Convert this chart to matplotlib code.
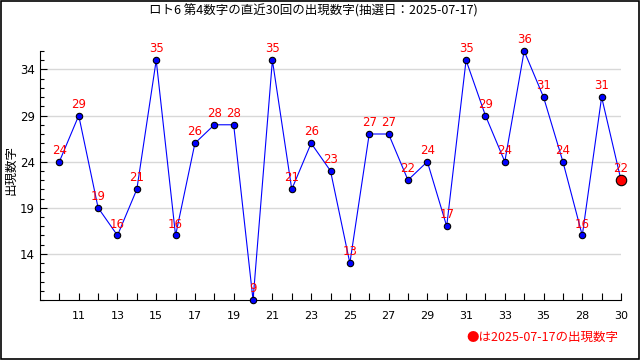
import matplotlib
matplotlib.use('Agg')
import matplotlib.pyplot as plt
from matplotlib.patches import Rectangle

plt.rcParams['font.family'] = ['Noto Sans CJK JP', 'DejaVu Sans']

# data
draws = list(range(1, 31))
numbers = [24, 29, 19, 16, 21, 35, 16, 26, 28, 28, 9, 35, 21, 26, 23,
           13, 27, 27, 22, 24, 17, 35, 29, 24, 36, 31, 24, 16, 31, 22]
tick_pos = list(range(2, 31, 2))
tick_labels = ['11', '13', '15', '17', '19', '21', '23', '25', '27', '29',
               '31', '33', '35', '28', '30']
title = 'ロト6 第4数字の直近30回の出現数字(抽選日：2025-07-17)'
note = '●は2025-07-17の出現数字'

fig = plt.figure(figsize=(6.4, 3.6), dpi=100)
ax = fig.add_axes([40 / 640, 1 - 300 / 360, 581 / 640, 249 / 360])

ax.plot(draws, numbers, color='blue', lw=0.8, zorder=3)
ax.plot(draws[:-1], numbers[:-1], 'o', ms=4.6, mfc='blue', mec='black',
        mew=0.8, zorder=4, clip_on=False)
ax.plot(draws[-1], numbers[-1], 'o', ms=7.5, mfc='red', mec='black',
        mew=0.8, zorder=5, clip_on=False)

for x, y in zip(draws, numbers):
    ax.annotate(str(y), (x, y), xytext=(0, 3.5), textcoords='offset points',
                ha='center', va='bottom', color='red', fontsize=8.5,
                family='DejaVu Sans', zorder=6)

ax.set_xlim(0, 30)
ax.set_ylim(9, 36)
ax.set_xticks(draws, minor=True)
ax.set_xticks(tick_pos)
ax.set_xticklabels(tick_labels, fontsize=8, family='DejaVu Sans')
ax.set_yticks([14, 19, 24, 29, 34])
ax.set_yticks(range(9, 37), minor=True)
ax.tick_params(axis='y', labelsize=8.5)
ax.tick_params(which='both', direction='in', color='black', width=0.8)
ax.tick_params(which='major', length=5)
ax.tick_params(axis='x', which='minor', length=5)
ax.tick_params(axis='y', which='minor', length=3)
ax.tick_params(axis='x', pad=8)
for lab in ax.get_yticklabels():
    lab.set_family('DejaVu Sans')
ax.grid(axis='y', color='#d8d8d8', lw=1)
ax.set_axisbelow(True)
ax.spines['top'].set_visible(False)
ax.spines['right'].set_visible(False)

fig.text(11 / 640, 1 - 170 / 360, '出現数字', rotation=90, ha='center',
         va='center', fontsize=9)
fig.text(0.49, 1 - 11 / 360, title, ha='center', va='center', fontsize=9)
fig.text(618 / 640, 1 - 337 / 360, note, ha='right', va='center',
         color='red', fontsize=9)
fig.patches.append(Rectangle((0.001, 0.002), 0.997, 0.996, fill=False,
                             ec='black', lw=1.2, transform=fig.transFigure))

fig.savefig('out.png', dpi=100)
